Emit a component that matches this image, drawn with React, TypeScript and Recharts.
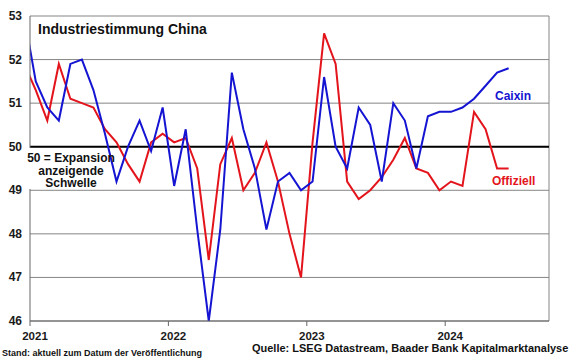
import React from "react";
import { LineChart, Line, XAxis, YAxis, CartesianGrid, ReferenceLine } from "recharts";

const months = [
  "2020-12",
  "2021-01","2021-02","2021-03","2021-04","2021-05","2021-06","2021-07","2021-08","2021-09","2021-10","2021-11","2021-12",
  "2022-01","2022-02","2022-03","2022-04","2022-05","2022-06","2022-07","2022-08","2022-09","2022-10","2022-11","2022-12",
  "2023-01","2023-02","2023-03","2023-04","2023-05","2023-06","2023-07","2023-08","2023-09","2023-10","2023-11","2023-12",
  "2024-01","2024-02","2024-03","2024-04","2024-05","2024-06",
];

const caixin = [
  53.0,
  51.5, 50.9, 50.6, 51.9, 52.0, 51.3, 50.3, 49.2, 50.0, 50.6, 49.9, 50.9,
  49.1, 50.4, 48.1, 46.0, 48.1, 51.7, 50.4, 49.5, 48.1, 49.2, 49.4, 49.0,
  49.2, 51.6, 50.0, 49.5, 50.9, 50.5, 49.2, 51.0, 50.6, 49.5, 50.7, 50.8,
  50.8, 50.9, 51.1, 51.4, 51.7, 51.8,
];

const offiziell = [
  51.9,
  51.3, 50.6, 51.9, 51.1, 51.0, 50.9, 50.4, 50.1, 49.6, 49.2, 50.1, 50.3,
  50.1, 50.2, 49.5, 47.4, 49.6, 50.2, 49.0, 49.4, 50.1, 49.2, 48.0, 47.0,
  50.1, 52.6, 51.9, 49.2, 48.8, 49.0, 49.3, 49.7, 50.2, 49.5, 49.4, 49.0,
  49.2, 49.1, 50.8, 50.4, 49.5, 49.5,
];

const yearTicks = [2021, 2022, 2023, 2024];
const yTicks = [46, 47, 48, 49, 50, 51, 52, 53];

const START_YEAR = 2021;
const monthPos = (m: string) => {
  const [y, mo] = m.split("-").map(Number);
  return (y - START_YEAR) * 12 + (mo - 1) + 0.5;
};

const data = months.map((m, i) => ({ t: monthPos(m), caixin: caixin[i], offiziell: offiziell[i] }));
const xTicks = yearTicks.map((y) => (y - START_YEAR) * 12);

const FONT = "'Liberation Sans', Arial, sans-serif";
const BLUE = "#1414d2";
const RED = "#e3141c";
const GRID = "#858585";

const XTick = (props: any) => {
  const { x, y, payload } = props;
  return (
    <text x={x + 5} y={y + 11.5} textAnchor="middle" fontFamily={FONT} fontWeight="bold" fontSize={11.5} fill="#1a1a1a">
      {START_YEAR + Math.round(payload.value / 12)}
    </text>
  );
};

const YTick = (props: any) => {
  const { x, y, payload } = props;
  return (
    <text x={x} y={y + 4} textAnchor="end" fontFamily={FONT} fontWeight="bold" fontSize={12} fill="#1a1a1a">
      {payload.value}
    </text>
  );
};

export default function App() {
  return (
    <div style={{ position: "absolute", left: 0, top: 0, width: 580, height: 359, background: "#fff" }}>
      <LineChart width={580} height={359} data={data} margin={{ top: 16, right: 31, left: 0, bottom: 0 }}>
        <CartesianGrid horizontal vertical={false} stroke={GRID} strokeWidth={1} />
        <XAxis
          dataKey="t"
          type="number"
          domain={[0, 45]}
          allowDataOverflow
          ticks={xTicks}
          tick={<XTick />}
          height={38}
          tickSize={5}
          axisLine={{ stroke: "#666" }}
          tickLine={{ stroke: "#666" }}
        />
        <YAxis
          type="number"
          domain={[46, 53]}
          ticks={yTicks}
          width={30}
          tick={<YTick />}
          tickLine={false}
          tickSize={6}
          axisLine={{ stroke: "#666" }}
          allowDataOverflow
        />
        <ReferenceLine x={45} stroke={GRID} strokeWidth={1} />
        <ReferenceLine y={50} stroke="#000" strokeWidth={2} />
        <Line dataKey="offiziell" stroke={RED} strokeWidth={2} dot={false} isAnimationActive={false} />
        <Line dataKey="caixin" stroke={BLUE} strokeWidth={2} dot={false} isAnimationActive={false} />
      </LineChart>
      <svg width={580} height={359} style={{ position: "absolute", left: 0, top: 0, pointerEvents: "none" }}>
        <rect x={27} y={148} width={80} height={41} fill="#fff" />
        <g fontFamily={FONT} fontWeight="bold">
          <text x={38} y={34} fontSize={14} fill="#111">Industriestimmung China</text>
          <text x={71} y={162} fontSize={12} fill="#111" textAnchor="middle">50 = Expansion</text>
          <text x={71} y={174.5} fontSize={12} fill="#111" textAnchor="middle">anzeigende</text>
          <text x={71} y={187} fontSize={12} fill="#111" textAnchor="middle">Schwelle</text>
          <text x={495} y={100} fontSize={12} fill={BLUE}>Caixin</text>
          <text x={492} y={185} fontSize={12} fill={RED}>Offiziell</text>
          <text x={2} y={356} fontSize={9} fill="#111">Stand: aktuell zum Datum der Veröffentlichung</text>
          <text transform="translate(252,352) scale(1,1.05)" x={0} y={0} fontSize={11} fill="#111">Quelle: LSEG Datastream, Baader Bank Kapitalmarktanalyse</text>
        </g>
      </svg>
    </div>
  );
}
